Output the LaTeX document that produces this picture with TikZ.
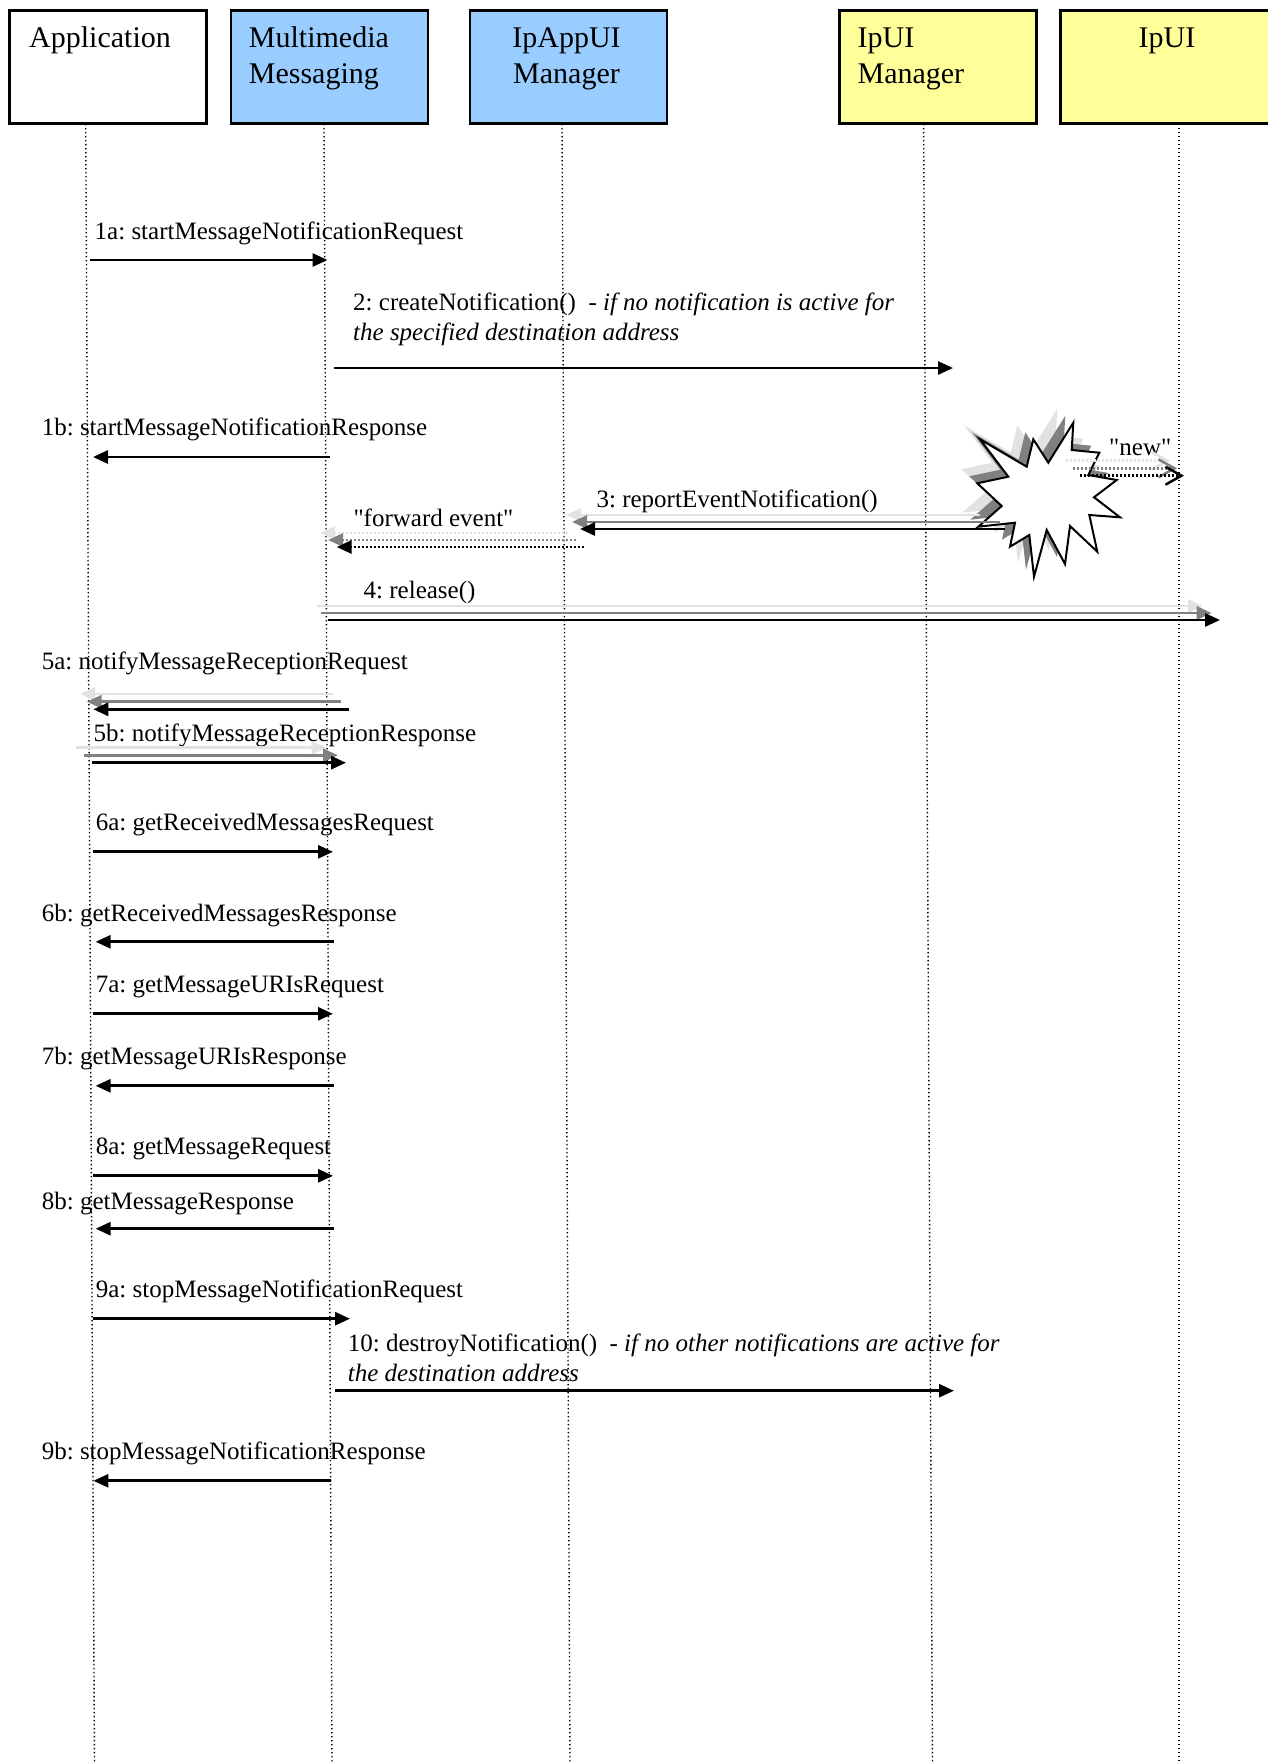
\documentclass[tikz,border=0pt]{standalone}
\usepackage{fontspec}
\setmainfont{Liberation Serif}
\usetikzlibrary{arrows.meta}
\definecolor{boxblue}{HTML}{99CCFF}
\definecolor{boxyellow}{HTML}{FFFF99}
\definecolor{shlight}{HTML}{E2E2E2}
\definecolor{shdark}{HTML}{808080}
\newcommand\qq{\XeTeXglyph\XeTeXglyphindex "quotedbl"\relax}
\newcommand\msgc[4]{\coordinate (#1s) at (#2,#4); \coordinate (#1e) at (#3,#4);}
\newcommand\starshape[1]{\path[#1] (980,439.3) -- (1008.3,476.7) -- (977.3,483.3) -- (1001.7,506) -- (978.3,526.7) -- (1015,522.7) -- (1010,546.7) -- (1029.3,535) -- (1034,576.7) -- (1046.7,530) -- (1065,564) -- (1070,526) -- (1097.3,551.7) -- (1089.3,515) -- (1120,517.3) -- (1094,497.3) -- (1116.7,480) -- (1088.3,475) -- (1099.3,452.7) -- (1071.7,450) -- (1073.3,422.7) -- (1048.3,462.7) -- (1033.3,439.3) -- (1026.7,466.7) -- cycle;}
\begin{document}
\frenchspacing
\begin{tikzpicture}[x=1pt,y=-1pt,
  objbox/.style={draw=black, line width=2.5pt, rectangle, minimum width=197pt, minimum height=113pt, anchor=north west, inner sep=0pt},
  boxtxt/.style={font=\fontsize{30}{36}\selectfont\frenchspacing, inner sep=0pt, anchor=base west},
  lbl/.style={font=\fontsize{25}{30}\selectfont\frenchspacing, inner sep=0pt, anchor=base west},
  life/.style={line width=1.4pt, dash pattern=on 1.4pt off 2.6pt},
  msg/.style={line width=2.8pt, -{Triangle[length=15pt,width=13pt]}},
  dmsg/.style={line width=2.8pt, dash pattern=on 2pt off 2pt, -{Triangle[length=15pt,width=13pt]}},
  nmsg/.style={line width=2.8pt, dash pattern=on 2pt off 2pt, -{Straight Barb[length=16pt,width=18pt,line width=2.5pt]}}]
\useasboundingbox (0,0) rectangle (1267,1764);
\fill[white] (0,0) rectangle (1267,1764);

% objects
\node[objbox, fill=white] (app) at (8,9) {};
\node[objbox, fill=boxblue] (mm) at (229.5,9) {};
\node[objbox, fill=boxblue] (ipapp) at (468.6,9) {};
\node[objbox, fill=boxyellow] (ipuim) at (838,9) {};
\node[objbox, fill=boxyellow, minimum width=217pt] (ipui) at (1059,9) {};

\node[boxtxt] (appt) at (29,47) {Application};
\node[boxtxt] (mmt1) at (248.7,47) {Multimedia};
\node[boxtxt] (mmt2) at (248.7,83) {Messaging};
\node[boxtxt, anchor=base] (ipappt1) at (566.5,47) {IpAppUI};
\node[boxtxt, anchor=base] (ipappt2) at (566.5,83) {Manager};
\node[boxtxt] (ipuimt1) at (857.4,47) {IpUI};
\node[boxtxt] (ipuimt2) at (857.4,83) {Manager};
\node[boxtxt, anchor=base] (ipuit) at (1167,47) {IpUI};

% lifelines
\coordinate (appT) at (85.7,124);   \coordinate (appB) at (94.5,1764);
\coordinate (mmT) at (324,124);     \coordinate (mmB) at (332,1764);
\coordinate (ipappT) at (562,124);  \coordinate (ipappB) at (570,1764);
\coordinate (ipuimT) at (923.6,124);\coordinate (ipuimB) at (932.5,1764);
\coordinate (ipuiT) at (1179,124);  \coordinate (ipuiB) at (1179,1764);
\foreach \l in {app,mm,ipapp,ipuim,ipui}{\draw[life] (\l T) -- (\l B);}

% star with shadows
\starshape{fill=shlight, shift={(-16,-14)}}
\starshape{fill=shdark, shift={(-8,-7)}}
\starshape{fill=white, draw=black, line width=2pt, line join=miter}

% labels
\node[lbl] (l1a) at (94.5,239) {1a: startMessageNotificationRequest};
\node[lbl] (l2a) at (353,310) {2: createNotification()\ \ - \textit{if no notification is active for}};
\node[lbl] (l2b) at (353,340) {\textit{the specified destination address}};
\node[lbl] (l1b) at (41.6,435.6) {1b: startMessageNotificationResponse};
\node[lbl] (lnew) at (1109,455) {\qq new\qq};
\node[lbl] (l3) at (596.4,507) {3: reportEventNotification()};
\node[lbl] (lfwd) at (353.3,526) {\qq forward event\qq};
\node[lbl] (l4) at (363.5,598) {4: release()};
\node[lbl] (l5a) at (41.6,669.6) {5a: notifyMessageReceptionRequest};
\node[lbl] (l5b) at (93.4,741.6) {5b: notifyMessageReceptionResponse};
\node[lbl] (l6a) at (95.6,830.5) {6a: getReceivedMessagesRequest};
\node[lbl] (l6b) at (41.6,921.7) {6b: getReceivedMessagesResponse};
\node[lbl] (l7a) at (95.6,992.5) {7a: getMessageURIsRequest};
\node[lbl] (l7b) at (41.6,1064.6) {7b: getMessageURIsResponse};
\node[lbl] (l8a) at (95.6,1154.6) {8a: getMessageRequest};
\node[lbl] (l8b) at (41.6,1209.7) {8b: getMessageResponse};
\node[lbl] (l9a) at (95.6,1297.5) {9a: stopMessageNotificationRequest};
\node[lbl] (l10a) at (347.7,1351.5) {10: destroyNotification()\ \ - \textit{if no other notifications are active for}};
\node[lbl] (l10b) at (347.7,1381) {\textit{the destination address}};
\node[lbl] (l9b) at (41.6,1459.5) {9b: stopMessageNotificationResponse};

% simple messages
\msgc{m1a}{90}{327.5}{260}
\msgc{m2}{334}{953}{368}
\msgc{m1b}{330}{93}{457}
\msgc{m6a}{93.4}{333}{851.8}
\msgc{m6b}{334}{95.6}{941.8}
\msgc{m7a}{93.4}{333}{1013.8}
\msgc{m7b}{334}{95.6}{1085.8}
\msgc{m8a}{93.4}{333}{1175.8}
\msgc{m8b}{334}{95.6}{1228.7}
\msgc{m9a}{93.4}{350}{1318.7}
\msgc{m10}{335}{954}{1390.7}
\msgc{m9b}{330.8}{93.4}{1480.8}
\foreach \m in {m1a,m2,m1b,m6a,m6b,m7a,m7b,m8a,m8b,m9a,m10,m9b}{\draw[msg] (\m s) -- (\m e);}

% messages with shadows
\msgc{m3l}{980}{566}{515}   \msgc{m3g}{1000}{572}{522} \msgc{m3k}{1005}{580}{529}
\draw[msg, shlight] (m3ls) -- (m3le);
\draw[msg, shdark] (m3gs) -- (m3ge);
\draw[msg, black] (m3ks) -- (m3ke);

\msgc{mfl}{568}{320}{533} \msgc{mfg}{576}{328}{540} \msgc{mfk}{583.5}{336.6}{547}
\draw[dmsg, shlight] (mfls) -- (mfle);
\draw[dmsg, shdark] (mfgs) -- (mfge);
\draw[dmsg, black] (mfks) -- (mfke);

\msgc{mnl}{1066}{1170}{460.7} \msgc{mng}{1073}{1177}{468.3} \msgc{mnk}{1080}{1184}{475.7}
\draw[nmsg, shlight] (mnls) -- (mnle);
\draw[nmsg, shdark] (mngs) -- (mnge);
\draw[nmsg, black] (mnks) -- (mnke);

\msgc{m4l}{317}{1203}{606} \msgc{m4g}{321}{1211.7}{613} \msgc{m4k}{327.7}{1220}{620}
\draw[msg, shlight] (m4ls) -- (m4le);
\draw[msg, shdark] (m4gs) -- (m4ge);
\draw[msg, black] (m4ks) -- (m4ke);

\msgc{m5al}{333}{80}{694} \msgc{m5ag}{341}{86.7}{701.7} \msgc{m5ak}{348.7}{93.3}{709.3}
\draw[msg, shlight] (m5als) -- (m5ale);
\draw[msg, shdark] (m5ags) -- (m5age);
\draw[msg, black] (m5aks) -- (m5ake);

\msgc{m5bl}{76}{326.7}{747.7} \msgc{m5bg}{84}{338}{755.3} \msgc{m5bk}{91.7}{346}{762.7}
\draw[msg, shlight] (m5bls) -- (m5ble);
\draw[msg, shdark] (m5bgs) -- (m5bge);
\draw[msg, black] (m5bks) -- (m5bke);
\end{tikzpicture}
\end{document}
